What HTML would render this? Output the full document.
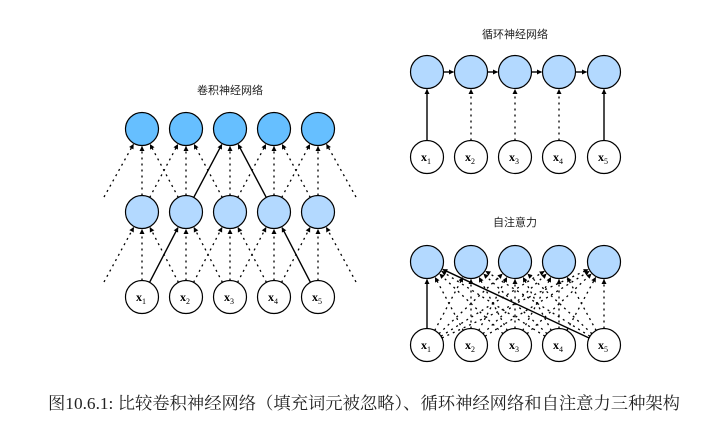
<!DOCTYPE html>
<html><head><meta charset="utf-8"><style>
html,body{margin:0;padding:0;background:#fff;}
svg{display:block;}
.t{font-family:"Liberation Sans","Noto Sans CJK SC",sans-serif;font-size:11px;fill:#222;}
.x{font-family:"Liberation Serif",serif;font-weight:bold;font-size:12px;}
.s{font-family:"Liberation Serif",serif;font-size:8px;font-weight:normal;}
</style></head><body>
<svg id="s" width="711" height="434" viewBox="0 0 711 434" xmlns="http://www.w3.org/2000/svg">
<defs>
<marker id="a" viewBox="0 0 10 10" refX="9" refY="5" markerWidth="5" markerHeight="5" orient="auto-start-reverse" markerUnits="userSpaceOnUse">
<path d="M0,0 L10,5 L0,10 z" fill="#000"/></marker>
</defs>
<g id="edges"></g>
<g id="nodes"></g>
<text class="t" x="230" y="94" text-anchor="middle">卷积神经网络</text>
<text class="t" x="515" y="38" text-anchor="middle">循环神经网络</text>
<text class="t" x="515" y="226" text-anchor="middle">自注意力</text>
<text x="48" y="409" textLength="632" lengthAdjust="spacingAndGlyphs" style="font-family:'Liberation Serif','Noto Serif CJK SC',serif;font-size:17px;fill:#222">图10.6.1: 比较卷积神经网络（填充词元被忽略）、循环神经网络和自注意力三种架构</text>
</svg>
<script>
var NS="http://www.w3.org/2000/svg",E=document.getElementById("edges"),N=document.getElementById("nodes"),R=16.5;
function el(t,a,p){var e=document.createElementNS(NS,t);for(var k in a)e.setAttribute(k,a[k]);p.appendChild(e);return e;}
function edge(x1,y1,x2,y2,solid,trunc){var dx=x2-x1,dy=y2-y1,L=Math.hypot(dx,dy),ux=dx/L,uy=dy/L;
 var sx=x1+ux*(trunc?0:R),sy=y1+uy*(trunc?0:R),ex=x2-ux*(R+1),ey=y2-uy*(R+1);
 var a={x1:sx,y1:sy,x2:ex,y2:ey,stroke:"#000","stroke-width":solid?1.4:1.3,"marker-end":"url(#a)"};
 if(!solid)a["stroke-dasharray"]="2,4";el("line",a,E);}
function node(x,y,f,lab){el("circle",{cx:x,cy:y,r:R,fill:f,stroke:"#000","stroke-width":1.2},N);
 if(lab){var t=el("text",{x:x-6,y:y+4,"class":"x"},N);t.textContent="x";var s=el("tspan",{"class":"s",dy:3},t);s.textContent=lab;}}
var cx=[142,186,230,274,318],L1="#b3d9ff",L2="#66bfff";
var yb=297,ym=212,yt=129;
function cnnLayer(yl,yh,sol){for(var i=0;i<5;i++)for(var d=-1;d<=1;d++){var j=i+d;
 if(j<0||j>4){edge(cx[i]+d*38,yl-15,cx[i],yh,false,true);continue;}
 var so=sol.some(function(p){return p[0]==j&&p[1]==i});edge(cx[j],yl,cx[i],yh,so);}}
cnnLayer(yb,ym,[[0,1],[4,3]]);cnnLayer(ym,yt,[[1,2],[3,2]]);
for(var i=0;i<5;i++){node(cx[i],yt,L2);node(cx[i],ym,L1);node(cx[i],yb,"#fff",String(i+1));}
var rx=[427,471,515,559,604],rt=72,rb=157;
for(var i=0;i<5;i++){edge(rx[i],rb,rx[i],rt,i==0||i==4);if(i<4)edge(rx[i],rt,rx[i+1],rt,true);}
for(var i=0;i<5;i++){node(rx[i],rt,L1);node(rx[i],rb,"#fff",String(i+1));}
var at=262,ab=345;
for(var i=0;i<5;i++)for(var j=0;j<5;j++){var so=(j==0&&(i==0||i==4));edge(rx[i],ab,rx[j],at,so);}
for(var i=0;i<5;i++){node(rx[i],at,L1);node(rx[i],ab,"#fff",String(i+1));}
</script>
</body></html>
